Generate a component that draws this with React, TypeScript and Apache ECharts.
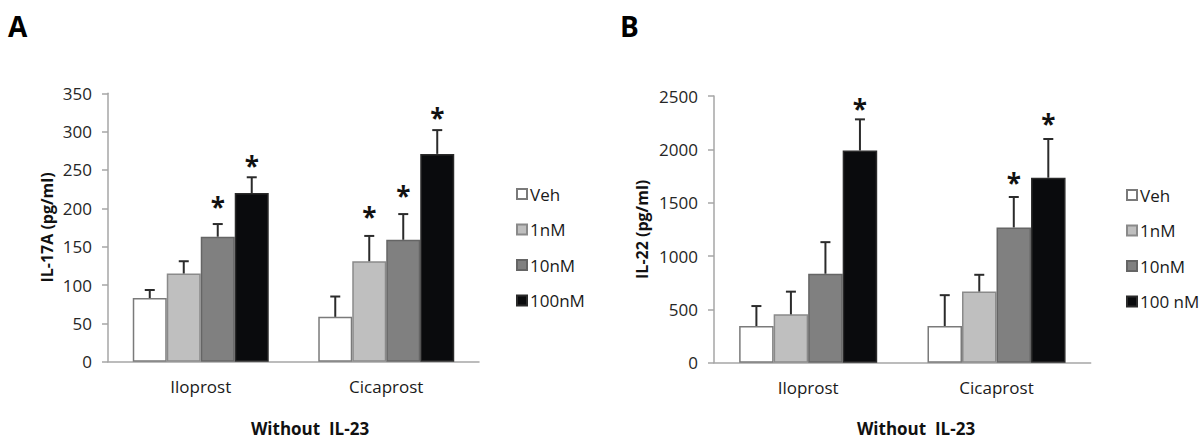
import React, { useEffect, useRef } from "react";
import * as echarts from "echarts";

const categories = ["Iloprost", "Cicaprost"];
const dosesA = ["Veh", "1nM", "10nM", "100nM"];
const dosesB = ["Veh", "1nM", "10nM", "100 nM"];

// IL-17A (pg/ml), per dose: [Iloprost, Cicaprost]
const il17Means = [
  [83, 58.5],
  [115, 131],
  [163, 159],
  [220, 271],
];
const il17Errors = [
  [10.5, 26.5],
  [16, 33],
  [16.5, 33.5],
  [20.5, 31],
];
const il17Stars = [
  [null, null],
  [null, 197],
  [209.6, 224],
  [263, 326],
];

// IL-22 (pg/ml), per dose: [Iloprost, Cicaprost]
const il22Means = [
  [344, 344],
  [453, 667],
  [834, 1268],
  [1989, 1734],
];
const il22Errors = [
  [187, 289],
  [213, 157],
  [296, 285],
  [292, 363],
];
const il22Stars = [
  [null, null],
  [null, null],
  [null, 1744],
  [2437, 2294],
];

const ticksA = { min: 0, max: 350, interval: 50 };
const ticksB = { min: 0, max: 2500, interval: 500 };

const FONT = "Open Sans";
const GAP = 0.267;
const fills = ["#ffffff", "#bfbfbf", "#808080", "#0a0b0d"];
const borders = ["#7a7a7a", "#8a8a8a", "#656565", "#2a2a2a"];

function makeSeries(
  idx: number,
  doses: string[],
  means: number[][],
  errors: number[][],
  stars: (number | null)[][]
) {
  const out: any[] = [];
  doses.forEach((d, i) => {
    out.push({
      type: "bar",
      name: d,
      xAxisIndex: idx,
      yAxisIndex: idx,
      barGap: "0%",
      barCategoryGap: GAP * 100 + "%",
      itemStyle: { color: fills[i], borderColor: borders[i], borderWidth: 1.5 },
      data: means[i],
      z: 2,
    });
  });
  doses.forEach((d, i) => {
    out.push({
      type: "custom",
      name: d + "_err" + idx,
      xAxisIndex: idx,
      yAxisIndex: idx,
      z: 5,
      silent: true,
      data: categories.map((_, c) => [
        c,
        means[i][c],
        errors[i][c],
        stars[i][c] == null ? -1 : stars[i][c],
      ]),
      renderItem: (params: any, api: any) => {
        const cat = api.value(0);
        const mean = api.value(1);
        const err = api.value(2);
        const star = api.value(3);
        const base = api.coord([cat, mean]);
        const top = api.coord([cat, mean + err]);
        const band = api.size([1, 0])[0];
        const groupW = band * (1 - GAP);
        const barW = groupW / doses.length;
        const x = base[0] - groupW / 2 + barW * (i + 0.5);
        const children: any[] = [
          {
            type: "line",
            shape: { x1: x, y1: base[1], x2: x, y2: top[1] },
            style: { stroke: "#2b2b2b", lineWidth: 2 },
          },
          {
            type: "line",
            shape: { x1: x - 5, y1: top[1], x2: x + 5, y2: top[1] },
            style: { stroke: "#2b2b2b", lineWidth: 2 },
          },
        ];
        if (star > 0) {
          const sp = api.coord([cat, star]);
          children.push({
            type: "text",
            x: x,
            y: sp[1] + 6,
            style: {
              text: "*",
              fontFamily: FONT,
              fontWeight: "bold",
              fontSize: 26,
              fill: "#111111",
              align: "center",
              verticalAlign: "middle",
            },
          });
        }
        return { type: "group", children };
      },
    });
  });
  return out;
}

function yAxisCfg(idx: number, name: string, t: any, gap: number) {
  return {
    type: "value",
    gridIndex: idx,
    min: t.min,
    max: t.max,
    interval: t.interval,
    name,
    nameLocation: "middle",
    nameGap: gap,
    nameTextStyle: { fontFamily: FONT, fontWeight: "bold", fontSize: 16, color: "#111" },
    axisLine: { show: true, lineStyle: { color: "#a6a6a6", width: 1.5 } },
    axisTick: { show: true, length: 6, lineStyle: { color: "#a6a6a6", width: 1.5 } },
    splitLine: { show: false },
    axisLabel: {
      fontFamily: FONT,
      fontSize: 17,
      color: "#262626",
      margin: 16,
      formatter: (v: number) => String(v),
    },
  };
}

function xAxisCfg(idx: number) {
  return {
    type: "category",
    gridIndex: idx,
    data: categories,
    axisLine: { show: true, lineStyle: { color: "#a6a6a6", width: 1.5 } },
    axisTick: { show: false },
    axisLabel: { fontFamily: FONT, fontSize: 17, color: "#1a1a1a", margin: 16 },
  };
}

function legendCfg(doses: string[], left: number, top: number) {
  return {
    orient: "vertical",
    left,
    top,
    data: doses,
    icon: "rect",
    itemWidth: 10,
    itemHeight: 10,
    itemGap: 17.5,
    selectedMode: false,
    textStyle: { fontFamily: FONT, fontSize: 17, color: "#1a1a1a", lineHeight: 18, padding: [0, 0, 0, -2] },
  };
}

export default function App() {
  const ref = useRef<HTMLDivElement>(null);
  useEffect(() => {
    if (!ref.current) return;
    const chart = echarts.init(ref.current, undefined, { renderer: "svg" });
    chart.setOption({
      animation: false,
      backgroundColor: "#ffffff",
      grid: [
        { left: 108, top: 93.3, width: 371, height: 268.4 },
        { left: 714, top: 96, width: 376.7, height: 266.7 },
      ],
      xAxis: [xAxisCfg(0), xAxisCfg(1)],
      yAxis: [
        yAxisCfg(0, "IL-17A (pg/ml)", ticksA, 53),
        yAxisCfg(1, "IL-22 (pg/ml)", ticksB, 64),
      ],
      legend: [legendCfg(dosesA, 511, 180), legendCfg(dosesB, 1121, 181)],
      series: [
        ...makeSeries(0, dosesA, il17Means, il17Errors, il17Stars),
        ...makeSeries(1, dosesB, il22Means, il22Errors, il22Stars),
      ],
      graphic: [
        {
          type: "text",
          left: 8,
          top: 12,
          style: { text: "A", fontFamily: FONT, fontWeight: "bold", fontSize: 28, fill: "#000" },
        },
        {
          type: "text",
          left: 620,
          top: 12,
          style: { text: "B", fontFamily: FONT, fontWeight: "bold", fontSize: 28, fill: "#000" },
        },
        {
          type: "text",
          x: 310,
          y: 428,
          style: {
            text: "Without  IL-23",
            fontFamily: FONT,
            fontWeight: "bold",
            fontSize: 17,
            fill: "#111",
            align: "center",
            verticalAlign: "middle",
          },
        },
        {
          type: "text",
          x: 916,
          y: 428,
          style: {
            text: "Without  IL-23",
            fontFamily: FONT,
            fontWeight: "bold",
            fontSize: 17,
            fill: "#111",
            align: "center",
            verticalAlign: "middle",
          },
        },
      ],
    });
    return () => chart.dispose();
  }, []);
  return (
    <div
      ref={ref}
      style={{ position: "absolute", left: 0, top: 0, width: 1200, height: 440 }}
    />
  );
}
